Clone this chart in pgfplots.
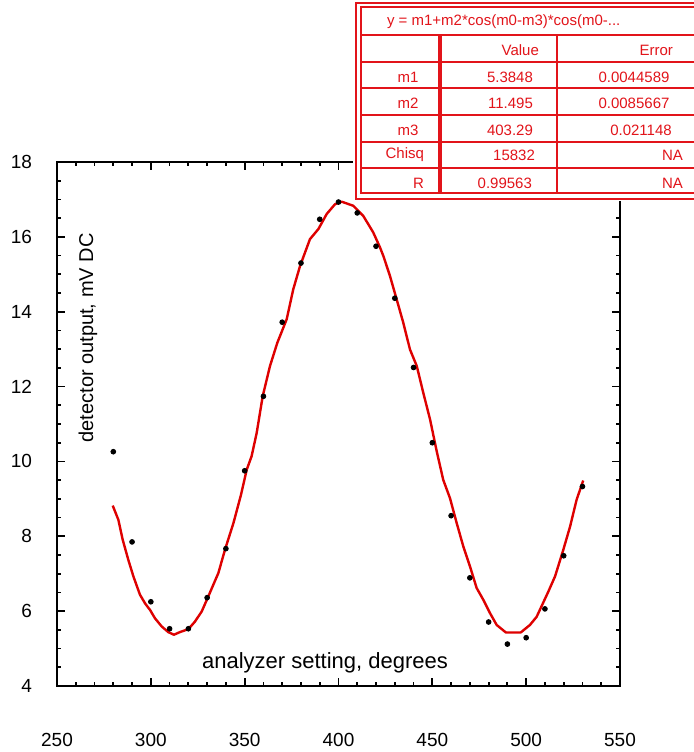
\documentclass[border=0pt]{standalone}
\usepackage{pgfplots}
\pgfplotsset{compat=1.18}
\usepackage{fontspec}
\setmainfont{Liberation Sans}
\definecolor{fitred}{RGB}{222,0,0}
\definecolor{tabred}{RGB}{226,20,26}

\begin{document}
\begin{tikzpicture}
% page frame = reference image (693 x 752 px at 0.5pt per px)
\useasboundingbox (-28.5pt,-33pt) rectangle (318pt,343pt);

\begin{axis}[
    at={(0,0)}, anchor=south west,
    scale only axis,
    width=281.5pt, height=262pt,
    xmin=250, xmax=550,
    ymin=4, ymax=18,
    xtick={250,300,...,550},
    ytick={4,6,...,18},
    minor x tick num=4,
    minor y tick num=3,
    tick align=inside,
    major tick length=4pt,
    minor tick length=2pt,
    every tick/.style={black, line width=0.9pt},
    axis line style={line width=1.1pt},
    tick label style={font=\fontsize{9.5}{11}\selectfont},
    /pgf/number format/assume math mode=true,
    yticklabel style={xshift=-9pt},
    xticklabel style={yshift=-20pt},
    clip=false,
]
% fitted curve
\addplot[fitred, line width=1.2pt, line join=round] coordinates {
(279.7,8.82) (282.7,8.44) (285,7.91) (288,7.37) (290.7,6.93) (294.2,6.44)
(296.9,6.21) (299.6,6.03) (302.2,5.81) (305.8,5.59) (309.3,5.44) (312.3,5.37)
(315.5,5.44) (320,5.52) (323.5,5.72) (327.1,5.99) (330.6,6.39) (336,7.02)
(339.5,7.64) (344,8.35) (348,9.1) (351.1,9.78) (353.7,10.14) (356.4,10.76)
(359.6,11.74) (363.5,12.55) (367.4,13.17) (372.4,13.80) (375.9,14.60)
(379.5,15.22) (384.8,15.94) (389.3,16.21) (393.7,16.61) (398.1,16.87)
(401.7,16.94) (407.9,16.83) (413.2,16.56) (418.5,16.12) (422.1,15.72)
(423.9,15.49) (427.4,14.96) (431,14.33) (434.5,13.71) (438.1,12.99)
(441.7,12.55) (445.2,11.83) (448.8,11.12) (452.3,10.28) (455.8,9.51)
(459.4,9.02) (463,8.35) (466.5,7.73) (470.1,7.19) (473.6,6.62) (477.2,6.30)
(480.7,5.95) (484.3,5.63) (489.2,5.43) (497.1,5.43) (502,5.63) (505.6,5.85)
(511.8,6.52) (515.4,6.93) (519.8,7.64) (523.4,8.26) (526.9,8.98) (530.4,9.49)
};
% measured points
\addplot[only marks, mark=*, mark size=1.2pt, black] coordinates {
(280,10.26) (290,7.85) (300,6.25) (310,5.53) (320,5.53) (330,6.36) (340,7.67)
(350,9.75) (360,11.74) (370,13.72) (380,15.30) (390,16.47) (400,16.93)
(410,16.64) (420,15.75) (430,14.36) (440,12.51) (450,10.50) (460,8.55)
(470,6.89) (480,5.71) (490,5.12) (500,5.29) (510,6.06) (520,7.48) (530,9.33)
};
\node[rotate=90, font=\fontsize{10}{12}\selectfont] at (axis cs:266.5,13.3) {detector output, mV DC};
\node[font=\fontsize{11}{13}\selectfont] at (axis cs:392.8,4.62) {analyzer setting, degrees};
\end{axis}

% fit results table
\begin{scope}[shift={(-28.5pt,343pt)},x=0.5pt,y=-0.5pt, tabred, font=\fontsize{7.5}{9}\selectfont]
\fill[white] (353,0) rectangle (710,201);
\draw[line width=1pt] (356,3) rectangle (710,199);
\draw[line width=1pt] (361,7) rectangle (705,193);
\foreach \yy in {35,62,88,115,142,168}
  \draw[line width=1pt] (361,\yy) -- (705,\yy);
\draw[line width=2.2pt] (440,35) -- (440,193);
\draw[line width=0.8pt] (557,35) -- (557,193);
\node[anchor=west] at (380,22) {y = m1+m2*cos(m0-m3)*cos(m0-...};
\node[anchor=east] at (546,50) {Value};
\node[anchor=east] at (680,50) {Error};
\node at (408,77) {m1};
\node at (408,103) {m2};
\node at (408,130) {m3};
\node[anchor=east] at (431,155) {Chisq};
\node[anchor=east] at (431,183) {R};
\node[anchor=east] at (540,77) {5.3848};
\node[anchor=east] at (540,103) {11.495};
\node[anchor=east] at (540,130) {403.29};
\node[anchor=east] at (542,155) {15832};
\node[anchor=east] at (539,183) {0.99563};
\node at (634,77) {0.0044589};
\node at (634,103) {0.0085667};
\node at (641,130) {0.021148};
\node[anchor=east] at (690,155) {NA};
\node[anchor=east] at (690,183) {NA};
\end{scope}
\end{tikzpicture}
\end{document}
